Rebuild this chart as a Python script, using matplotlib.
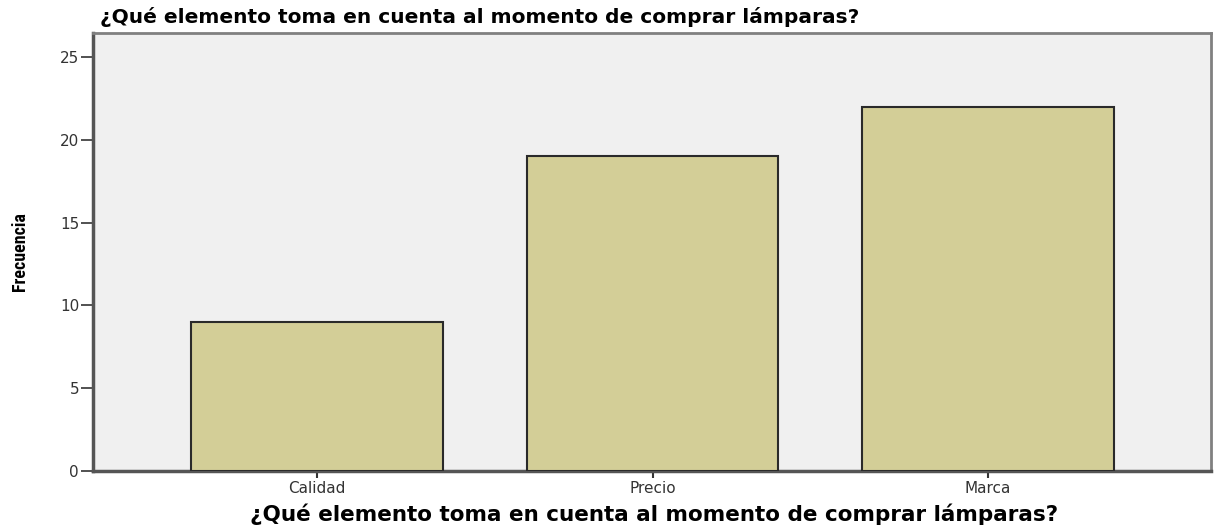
import matplotlib
matplotlib.use("Agg")
import matplotlib.pyplot as plt

categories = ["Calidad", "Precio", "Marca"]
values = [9, 19, 22]
yticks = [0, 5, 10, 15, 20, 25]
title = "¿Qué elemento toma en cuenta al momento de comprar lámparas?"

W, H = 1214, 527
fig = plt.figure(figsize=(W / 100, H / 100), dpi=100)
ax = fig.add_axes([93 / W, 1 - 471 / H, (1211 - 93) / W, (471 - 33) / H])
ax.set_facecolor("#f0f0f0")

x = list(range(len(categories)))
ax.bar(x, values, width=0.75, color="#d3ce97", edgecolor="#2a2a2a", linewidth=1.5, zorder=3)
ax.set_xlim(-0.668, 2.665)
ax.set_ylim(0, 26.45)
ax.set_yticks(yticks)
ax.set_xticks(x)
tickfont = dict(fontsize=11, family="DejaVu Sans")
ax.set_xticklabels(categories, **tickfont)
ax.set_yticklabels([str(t) for t in yticks], **tickfont)
ax.tick_params(axis="y", length=9, width=1.2, pad=1, color="#333333", labelcolor="#333333")
ax.tick_params(axis="x", length=5, width=1.5, pad=2, color="#333333", labelcolor="#333333")
for s in ["left", "bottom"]:
    ax.spines[s].set_color("#555555")
    ax.spines[s].set_linewidth(2.5)
for s in ["top", "right"]:
    ax.spines[s].set_color("#808080")
    ax.spines[s].set_linewidth(2)

fig.text(100 / W, 1 - 17 / H, title, fontsize=14.5, fontweight="bold",
         family="DejaVu Sans", va="center", ha="left")
fig.text(654 / W, 1 - 514 / H, title, fontsize=15.5, fontweight="bold",
         family="DejaVu Sans", va="center", ha="center")
fig.text(20 / W, 1 - 252 / H, "Frecuencia", fontsize=13, fontweight="bold",
         family=["Roboto Condensed", "DejaVu Sans"], rotation=90, va="center", ha="center")

fig.savefig("out.png", dpi=100)
